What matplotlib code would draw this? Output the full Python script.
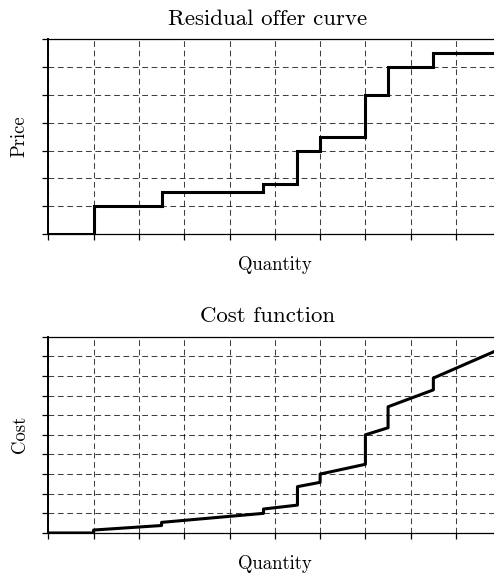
import matplotlib
matplotlib.use("Agg")
import matplotlib.pyplot as plt

# residual offer curve: step edges (quantity) and price on each step
offer_edges = [0, 1, 2.5, 4.75, 5.5, 6, 7, 7.5, 8.5, 10]
offer_price = [0, 1, 1.5, 1.8, 3, 3.5, 5, 6, 6.5]

# cost function: piecewise linear with jumps at the step edges
cost_q = [0, 1, 1, 2.5, 2.5, 4.75, 4.75, 5.5, 5.5, 6, 6, 7, 7, 7.5, 7.5, 8.5, 8.5, 10]
cost_v = [0, 0, 0.15, 0.38, 0.54, 1.0, 1.22, 1.42, 2.36, 2.58, 3.0, 3.5, 5.0, 5.36, 6.43, 7.29, 7.89, 9.4]

x_ticks = list(range(0, 11))
price_ticks = list(range(0, 8))
cost_ticks = list(range(0, 11))

plt.rcParams['font.family'] = ['cmr10', 'DejaVu Serif']

fig = plt.figure(figsize=(4.94, 5.77), dpi=100)
ax1 = fig.add_axes([0.0978, 0.5945, 0.917, 0.3374])
ax2 = fig.add_axes([0.0978, 0.0763, 0.917, 0.3402])


def style_axes(ax, yticks, ylabel, title):
    ax.set_xlim(0, 10)
    ax.set_ylim(yticks[0], yticks[-1])
    ax.set_xticks(x_ticks)
    ax.set_yticks(yticks)
    ax.set_xticklabels([])
    ax.set_yticklabels([])
    ax.tick_params(direction='out', length=4.5, width=0.9, color='black')
    ax.grid(True, color='black', linewidth=0.75, linestyle=(0, (5.5, 3.5)), alpha=0.75)
    ax.set_axisbelow(True)
    for side in ['top', 'bottom', 'right']:
        ax.spines[side].set_linewidth(0.9)
    ax.spines['left'].set_linewidth(1.4)
    ax.set_xlabel('Quantity', fontsize=13.5, labelpad=8)
    ax.set_ylabel(ylabel, fontsize=13.5, labelpad=6)
    ax.set_title(title, fontsize=16.5, pad=10.5, x=0.484)


ax1.stairs(offer_price, offer_edges, baseline=None, color='black', linewidth=2.2)
style_axes(ax1, price_ticks, 'Price', 'Residual offer curve')

ax2.plot(cost_q, cost_v, color='black', linewidth=2.2)
style_axes(ax2, cost_ticks, 'Cost', 'Cost function')

fig.savefig('out.png', dpi=100)
